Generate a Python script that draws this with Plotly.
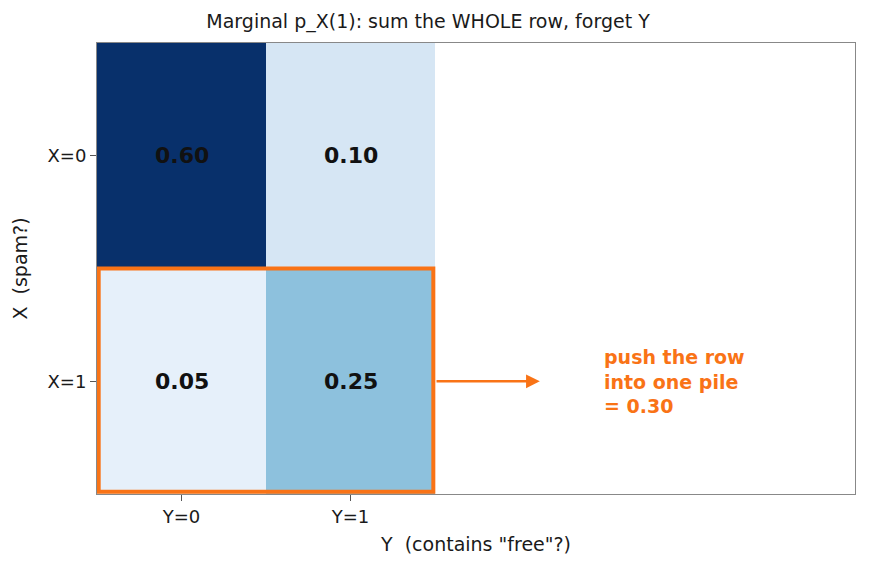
import plotly.graph_objects as go

x_labels = ["Y=0", "Y=1"]
y_labels = ["X=0", "X=1"]
probs = [[0.60, 0.10],
         [0.05, 0.25]]
marginal_x1 = 0.30
title = "Marginal p_X(1): sum the WHOLE row, forget Y"
note = "push the row<br>into one pile<br>= %.2f" % marginal_x1

ORANGE = "#f97316"
FONT = "DejaVu Sans"
TXT = "#1a1a1a"

fig = go.Figure()
fig.add_trace(go.Heatmap(
    z=probs, x=[0, 1], y=[0, 1],
    colorscale="Blues", zmin=0, zmax=0.6, showscale=False,
    hoverinfo="skip",
))

for i, row in enumerate(probs):
    for j, v in enumerate(row):
        fig.add_annotation(x=j, y=i, text="<b>%.2f</b>" % v, showarrow=False,
                           font=dict(family=FONT, size=22, color="#111111"))

# highlight row X=1
fig.add_shape(type="rect", x0=-0.49, x1=1.49, y0=0.5, y1=1.49,
              line=dict(color=ORANGE, width=4), layer="above")

# arrow
fig.add_annotation(x=2.12, y=1, ax=1.5, ay=1, xref="x", yref="y", axref="x", ayref="y",
                   text="", showarrow=True, arrowhead=2, arrowsize=1.1, arrowwidth=2.5,
                   arrowcolor=ORANGE)
fig.add_annotation(x=2.49, y=1, text="<b>" + note + "</b>", showarrow=False,
                   xanchor="left", yanchor="middle", align="left",
                   font=dict(family=FONT, size=19, color=ORANGE))

axis_common = dict(showgrid=False, zeroline=False, ticks="outside", ticklen=6,
                   tickcolor="#555555", showline=True, linecolor="#888888", linewidth=1,
                   mirror=True, tickfont=dict(family=FONT, size=18, color=TXT))

fig.update_xaxes(range=[-0.5, 3.985], tickvals=[0, 1], ticktext=x_labels,
                 title=dict(text='Y  (contains "free"?)', font=dict(family=FONT, size=19, color=TXT), standoff=12),
                 **axis_common)
fig.update_yaxes(range=[1.5, -0.5], tickvals=[0, 1], ticktext=y_labels,
                 title=dict(text="X  (spam?)", font=dict(family=FONT, size=19, color=TXT), standoff=14),
                 **axis_common)

fig.update_layout(
    width=870, height=569,
    margin=dict(l=97, r=15, t=43, b=75),
    plot_bgcolor="white", paper_bgcolor="white",
    title=dict(text=title, x=0.492, xanchor="center", y=0.962, yanchor="middle",
               font=dict(family=FONT, size=19, color=TXT)),
    font=dict(family=FONT),
)

fig.write_html("out.html")
